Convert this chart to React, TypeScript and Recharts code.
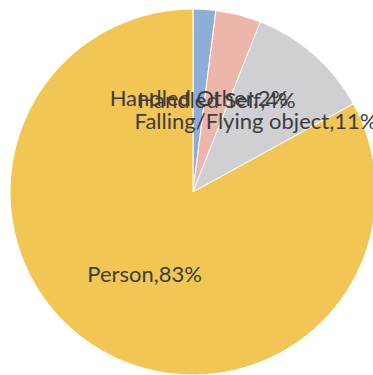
import React from 'react';
import { PieChart, Pie, Cell } from 'recharts';

// slice data, clockwise from 12 o'clock
const categories = ['Handled Other', 'Handled Self', 'Falling/Flying object', 'Person'];
const shares = [2, 4, 11, 83];
const COLORS = ['#8eaed8', '#ecb6ab', '#d0d0d4', '#f1c655'];

const data = categories.map((name, i) => ({ name, value: shares[i] }));

const RADIAN = Math.PI / 180;

const renderLabel = ({ cx, cy, midAngle, outerRadius, name, value }: any) => {
  const r = outerRadius * 0.52;
  const x = cx + r * Math.cos(-midAngle * RADIAN);
  const y = cy + r * Math.sin(-midAngle * RADIAN);
  return (
    <text
      x={x}
      y={y}
      fill="#3d3d3d"
      fontSize={22}
      fontFamily="Lato, sans-serif"
      textAnchor="middle"
      dominantBaseline="central"
    >
      {`${name},${value}%`}
    </text>
  );
};

export default function App() {
  return (
    <div style={{ position: 'absolute', left: 0, top: 0, width: 373, height: 375, background: '#fff', overflow: 'hidden' }}>
      <PieChart width={373} height={375} margin={{ top: 0, right: 0, bottom: 0, left: 0 }}>
        <Pie
          data={data}
          dataKey="value"
          nameKey="name"
          cx={193}
          cy={192}
          outerRadius={183}
          startAngle={90}
          endAngle={-270}
          stroke="#ffffff"
          strokeWidth={1}
          labelLine={false}
          label={renderLabel}
          isAnimationActive={false}
        >
          {data.map((entry, index) => (
            <Cell key={`cell-${index}`} fill={COLORS[index % COLORS.length]} />
          ))}
        </Pie>
      </PieChart>
    </div>
  );
}
